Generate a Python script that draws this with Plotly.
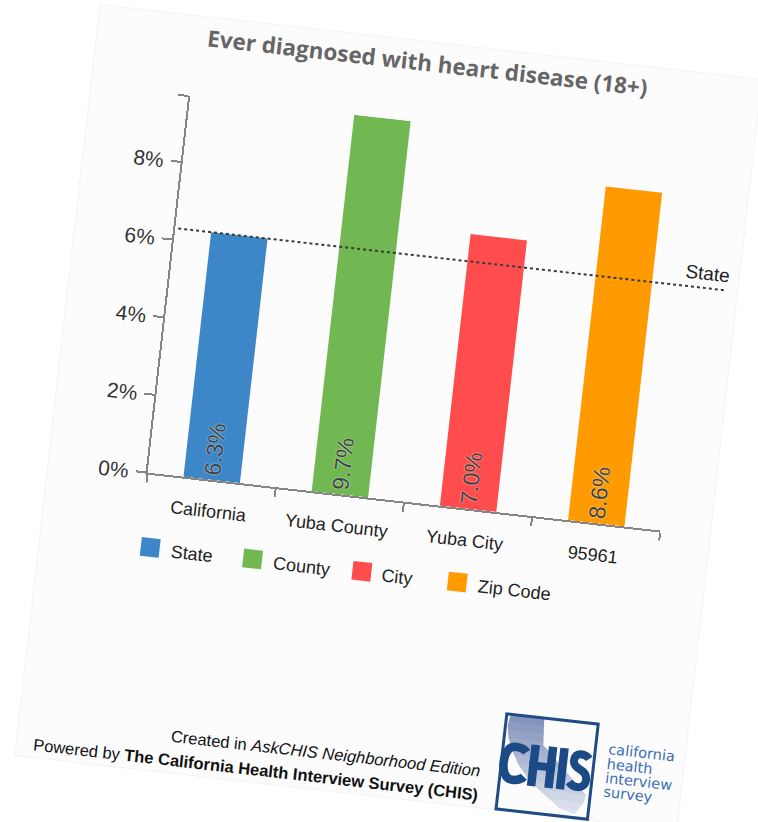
import plotly.graph_objects as go

# ---------------- data ----------------
categories = ["California", "Yuba County", "Yuba City", "95961"]
series_names = ["State", "County", "City", "Zip Code"]
values = [6.3, 9.7, 7.0, 8.6]
bar_colors = ["#3d87c8", "#72b852", "#ff4d4d", "#ff9a00"]
state_value = 6.3
y_tick_values = [0, 2, 4, 6, 8]
y_tick_labels = ["0%", "2%", "4%", "6%", "8%"]
title_text = "Ever diagnosed with heart disease (18+)"
footer_line1 = "Created in <i>AskCHIS Neighborhood Edition</i>"
footer_line2 = "Powered by <b>The California Health Interview Survey (CHIS)</b>"
logo_lines = ["california", "health", "interview", "survey"]

# ---------------- geometry helpers (figure pixels -> paper) ----------------
FW, FH = 758, 822
PL, PR, PT, PB = 156, 672, 121, 505


def px(x):
    return x / FW


def py(y):
    return 1 - y / FH


def path_px(cmds, dy=0.0):
    out = []
    for letter, pts in cmds:
        coords = []
        for i in range(0, len(pts), 2):
            coords.append(f"{px(pts[i]):.5f},{py(pts[i + 1] + dy):.5f}")
        out.append(letter + " " + " ".join(coords))
    return " ".join(out)


def clip_half(poly, yc, keep_greater):
    out = []
    n = len(poly)
    for i in range(n):
        a = poly[i]
        b = poly[(i + 1) % n]
        ina = (a[1] >= yc) if keep_greater else (a[1] <= yc)
        inb = (b[1] >= yc) if keep_greater else (b[1] <= yc)
        if ina:
            out.append(a)
        if ina != inb:
            t = (yc - a[1]) / (b[1] - a[1])
            out.append((a[0] + t * (b[0] - a[0]), yc))
    return out


def mix(c1, c2, t):
    a = [int(c1[i:i + 2], 16) for i in (1, 3, 5)]
    b = [int(c2[i:i + 2], 16) for i in (1, 3, 5)]
    return "#" + "".join(f"{round(a[k] + (b[k] - a[k]) * t):02x}" for k in range(3))


fig = go.Figure()

fig.add_trace(go.Bar(
    x=categories, y=values,
    marker=dict(color=bar_colors, line=dict(width=0)),
    width=0.44, showlegend=False, hoverinfo="skip",
))

shapes = []
annotations = []

# card background
shapes.append(dict(type="rect", xref="paper", yref="paper", layer="below",
                   x0=px(56), x1=px(722), y0=py(805), y1=py(39),
                   fillcolor="#fcfcfc", line=dict(color="#f3f3f3", width=1)))

# state reference line
shapes.append(dict(type="line", xref="paper", yref="y",
                   x0=px(159), x1=px(711), y0=state_value, y1=state_value,
                   line=dict(color="#3a3a3a", width=2, dash="dot")))
annotations.append(dict(text=series_names[0], xref="paper", yref="y",
                        x=px(690), y=state_value, xanchor="center", yanchor="bottom",
                        yshift=2, showarrow=False,
                        font=dict(family="Liberation Sans, Arial", size=19, color="#222")))

# value labels in bars (category index positions on the category axis)
for i, v in enumerate(values):
    annotations.append(dict(text=f"{v:.1f}%", xref="x", yref="y", x=i, y=0,
                            textangle=-90, xanchor="center", yanchor="bottom",
                            yshift=2, showarrow=False,
                            font=dict(family="Liberation Sans, Arial", size=23, color="#404040",
                                      shadow="0px 0px 1.5px #ffffff")))

# legend (manual)
leg_cx = [167, 270, 380, 476]
LEG_Y = 580
for name, col, cx in zip(series_names, bar_colors, leg_cx):
    shapes.append(dict(type="rect", xref="paper", yref="paper",
                       x0=px(cx - 9.5), x1=px(cx + 9.5), y0=py(LEG_Y + 9.5), y1=py(LEG_Y - 9.5),
                       fillcolor=col, line=dict(width=0)))
    annotations.append(dict(text=name, xref="paper", yref="paper",
                            x=px(cx + 18.5), y=py(LEG_Y + 2), xanchor="left", yanchor="middle",
                            showarrow=False,
                            font=dict(family="Liberation Sans, Arial", size=18, color="#222")))

# footer
annotations.append(dict(text=footer_line1, xref="paper", yref="paper",
                        x=px(522), y=py(767), xanchor="right", yanchor="middle",
                        showarrow=False,
                        font=dict(family="Liberation Sans, Arial", size=16.5, color="#111")))
annotations.append(dict(text=footer_line2, xref="paper", yref="paper",
                        x=px(522), y=py(792), xanchor="right", yanchor="middle",
                        showarrow=False,
                        font=dict(family="Liberation Sans, Arial", size=16.5, color="#111")))

# logo: California silhouette with a vertical gradient (drawn as bands)
DY = 8
BX0, BY0, BW, BH = 540, 699 + DY, 92, 97
ca_uv = [(0.045, 0.0), (0.41, 0.0), (0.433, 0.283), (0.951, 0.746), (0.9375, 0.834),
         (0.855, 0.963), (0.80, 0.95), (0.674, 0.913), (0.544, 0.823), (0.414, 0.733),
         (0.302, 0.641), (0.188, 0.515), (0.11, 0.385), (0.049, 0.2535), (0.024, 0.118)]
ca_poly = [(BX0 + BW * u, BY0 + BH * v) for (u, v) in ca_uv]
NB = 12
for k in range(NB):
    ya = BY0 + BH * k / NB
    yb = BY0 + BH * (k + 1) / NB + 0.6
    band = clip_half(clip_half(ca_poly, ya, True), yb, False)
    if len(band) < 3:
        continue
    cmds = [("M" if j == 0 else "L", [p[0], p[1]]) for j, p in enumerate(band)]
    shapes.append(dict(type="path", xref="paper", yref="paper",
                       path=path_px(cmds) + " Z",
                       fillcolor=mix("#7f90b9", "#e4e8f2", (k + 0.5) / NB),
                       line=dict(width=0)))
# logo box
shapes.append(dict(type="rect", xref="paper", yref="paper",
                   x0=px(BX0), x1=px(BX0 + BW), y0=py(BY0 + BH), y1=py(BY0),
                   line=dict(color="#1f4c85", width=3)))
# logo letters C H I S
NAVY = "#1b4a86"
c_path = [("M", [564, 735.5]), ("C", [561, 731.5, 557, 731.2, 552.5, 731.2]),
          ("C", [545.5, 731.2, 542.3, 739, 542.3, 748]),
          ("C", [542.3, 757, 545.5, 764.8, 552.5, 764.8]),
          ("C", [557, 764.8, 561, 764.5, 564, 760.5])]
shapes.append(dict(type="path", xref="paper", yref="paper", path=path_px(c_path, DY),
                   line=dict(color=NAVY, width=8.5)))
for (x0, x1, y0, y1) in [(568, 576.5, 727, 769), (585.5, 594, 727, 769),
                         (568, 594, 744, 752), (597, 605.5, 727, 769)]:
    shapes.append(dict(type="rect", xref="paper", yref="paper",
                       x0=px(x0), x1=px(x1), y0=py(y1 + DY), y1=py(y0 + DY),
                       fillcolor=NAVY, line=dict(width=0)))
s_path = [("M", [627, 735]), ("C", [624.5, 732, 621.5, 731.2, 618.5, 731.2]),
          ("C", [614.5, 731.2, 612, 734, 612, 738.5]),
          ("C", [612, 743.5, 616, 745.5, 619.5, 747]),
          ("C", [623.5, 748.8, 626.2, 751.5, 626.2, 756.5]),
          ("C", [626.2, 762, 622.5, 764.8, 618.5, 764.8]),
          ("C", [615, 764.8, 612, 763.5, 609.5, 760.5])]
shapes.append(dict(type="path", xref="paper", yref="paper", path=path_px(s_path, DY),
                   line=dict(color=NAVY, width=8)))
for i, word in enumerate(logo_lines):
    annotations.append(dict(text=word, xref="paper", yref="paper",
                            x=px(643), y=py(731 + 14.6 * i), xanchor="left", yanchor="middle",
                            showarrow=False,
                            font=dict(family="DejaVu Sans", size=14.5, color="#3b6db4")))

axis_col = "#858585"
fig.update_layout(
    width=FW, height=FH, autosize=False,
    margin=dict(l=0, r=0, t=0, b=0),
    paper_bgcolor="#ffffff", plot_bgcolor="rgba(0,0,0,0)",
    title=dict(text=title_text, x=px(388), y=py(60), xanchor="center", yanchor="middle",
               xref="container", yref="container",
               font=dict(family="Open Sans", size=22.5, color="#666666", weight=700)),
    xaxis=dict(domain=[px(PL), px(PR)], type="category", range=[-0.5, 3.5],
               showline=True, linecolor=axis_col, linewidth=2,
               ticks="outside", tickson="boundaries", ticklen=8, tickwidth=2, tickcolor=axis_col,
               showgrid=False, zeroline=False, ticklabelstandoff=14,
               tickfont=dict(family="Liberation Sans, Arial", size=18, color="#222")),
    yaxis=dict(domain=[py(PB), py(PT)], range=[0, max(values)],
               showline=True, linecolor=axis_col, linewidth=2,
               ticks="outside", ticklen=10, tickwidth=2, tickcolor=axis_col,
               tickvals=y_tick_values + [max(values)], ticktext=y_tick_labels + [""],
               showgrid=False, zeroline=False, ticklabelstandoff=3,
               tickfont=dict(family="Liberation Sans, Arial", size=21, color="#333")),
    shapes=shapes, annotations=annotations, showlegend=False,
)

post_script = """
var gd = document.getElementById('{plot_id}');
document.documentElement.style.overflow = 'hidden';
document.body.style.margin = '0';
document.body.style.overflow = 'hidden';
document.body.style.background = '#ffffff';
gd.style.transformOrigin = '379px 411px';
gd.style.transform = 'rotate(6.45deg)';
"""

fig.write_html("out.html", post_script=post_script, config={"displayModeBar": False})
